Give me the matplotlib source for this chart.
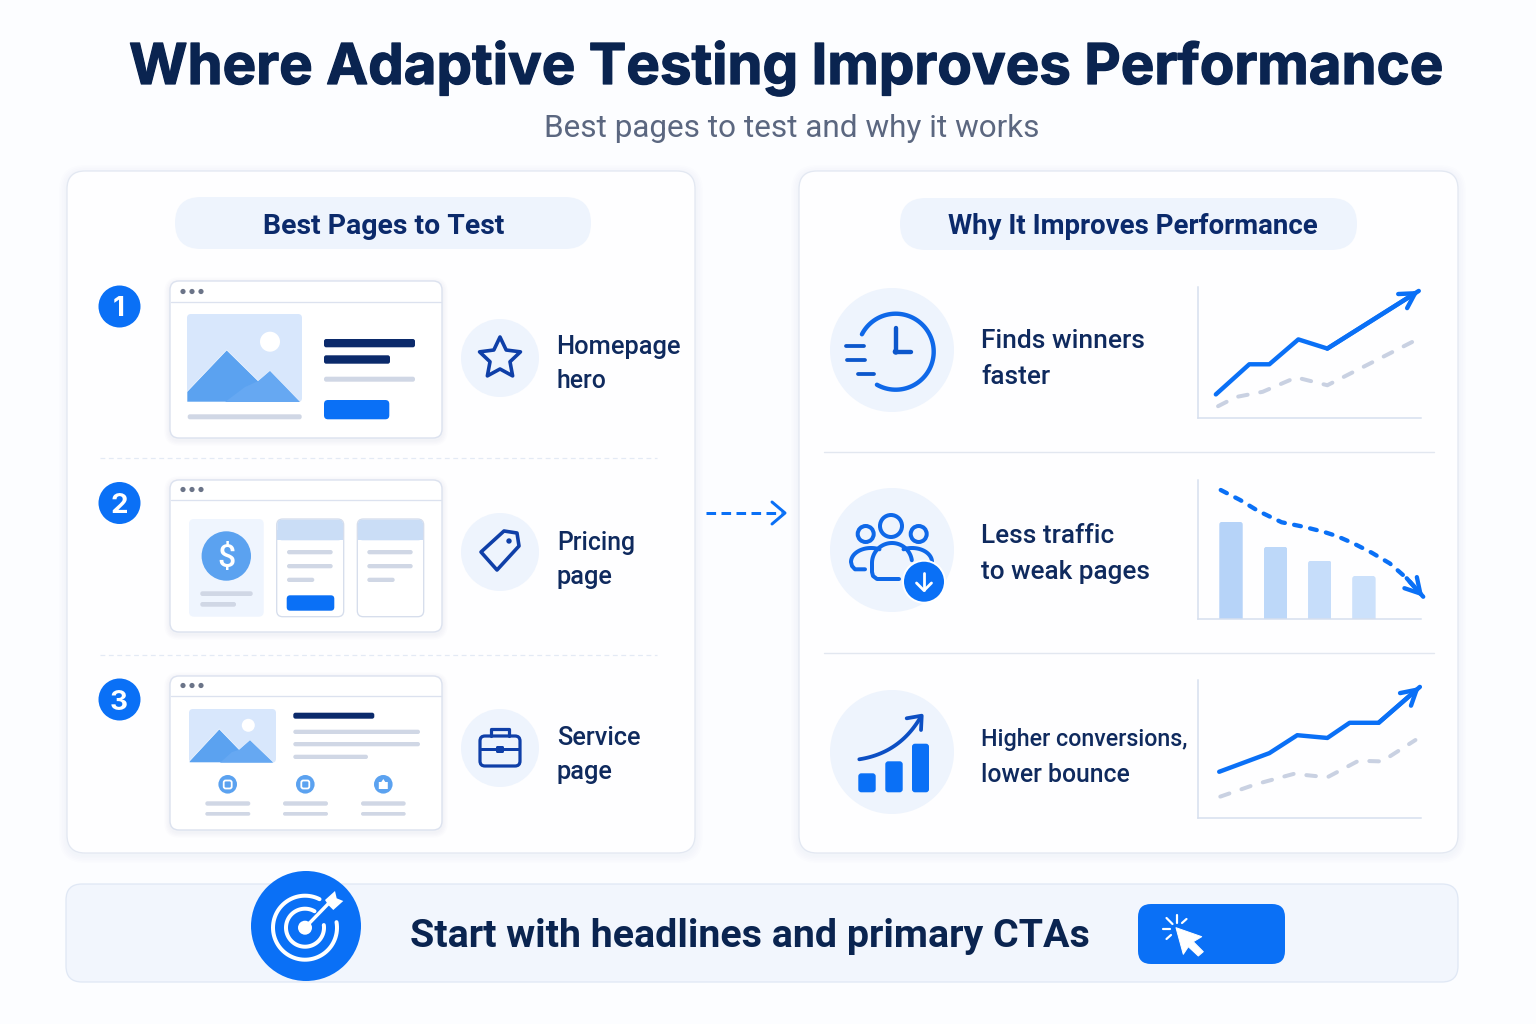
import numpy as np
import matplotlib
matplotlib.use("Agg")
import matplotlib.pyplot as plt
import matplotlib.patheffects as pe
from matplotlib.patches import FancyBboxPatch, Circle, Polygon, Rectangle

# ---------- content ----------
TITLE = "Where Adaptive Testing Improves Performance"
SUBTITLE = "Best pages to test and why it works"
LEFT_HEAD = "Best Pages to Test"
RIGHT_HEAD = "Why It Improves Performance"
PAGE_LABELS = [["Homepage", "hero"], ["Pricing", "page"], ["Service", "page"]]
REASONS = [["Finds winners", "faster"], ["Less traffic", "to weak pages"],
           ["Higher conversions,", "lower bounce"]]
FOOTER = "Start with headlines and primary CTAs"

# chart 1
c1_x = [8, 23, 32, 45, 58, 99]
c1_main = [18, 41, 41, 60, 53, 97]
c1_dx = [9, 17, 29, 44, 58, 96]
c1_base = [9, 16, 20, 31, 25, 58]
# chart 2
c2_bar_x = [14.8, 34.8, 54.6, 74.4]
c2_bars = [70, 52, 42, 31]
c2_lx = [10.2, 18.9, 27, 32.3, 37.5, 47.2, 56.2, 62.2, 69.6, 77.9, 86, 93.6, 101]
c2_ly = [92.8, 85.6, 77.7, 73.6, 69.6, 66.4, 62.8, 59.7, 54.5, 47.7, 40, 29.3, 16]
# chart 3
c3_x = [9.5, 32, 44.5, 58, 68, 81, 99.5]
c3_main = [33.5, 47, 60, 58, 69, 69, 95]
c3_dx = [10, 26, 43, 58, 72, 82.5, 97.5]
c3_base = [15.5, 24.5, 32, 29.5, 41.5, 41, 56.5]

# ---------- colours ----------
BG = "#FCFDFF"
BLUE = "#0A70F6"
NAVY = "#0B2A6B"
DARK = "#0A2450"
ICON_NAVY = "#0F3FA8"
GREY = "#D0D7E5"
BORDER = "#E3E8F2"
PALE = "#EEF4FD"
MID = "#5BA2F0"
SKY = "#D8E7FC"
PX = 0.72  # points per pixel at dpi 100

fig = plt.figure(figsize=(15.36, 10.24), dpi=100, facecolor=BG)
ax = fig.add_axes([0, 0, 1, 1], zorder=1)
ax.set_xlim(0, 1536)
ax.set_ylim(1024, 0)
ax.axis("off")
renderer = fig.canvas.get_renderer()
_z = [10]


def nz():
    _z[0] += 1
    return _z[0]


def rrect(x0, y0, x1, y1, r=4, fc="white", ec="none", lw=0, alpha=None):
    p = FancyBboxPatch((x0, y0), x1 - x0, y1 - y0,
                       boxstyle=f"round,pad=0,rounding_size={r}",
                       fc=fc, ec=ec, lw=lw * PX, alpha=alpha, zorder=nz())
    ax.add_patch(p)
    return p


def shadow(x0, y0, x1, y1, r, layers=5, spread=1.6, dy=2, a=0.008):
    for i in range(layers, 0, -1):
        s = i * spread
        rrect(x0 - s, y0 - s + dy, x1 + s, y1 + s + dy, r + s, fc="#5A78B0", alpha=a)


def circ(x, y, r, fc="none", ec="none", lw=0):
    ax.add_patch(Circle((x, y), r, fc=fc, ec=ec, lw=lw * PX, zorder=nz()))


def line(xs, ys, color, lw, **kw):
    kw.setdefault("solid_capstyle", "round")
    kw.setdefault("solid_joinstyle", "round")
    ax.plot(xs, ys, color=color, lw=lw * PX, zorder=nz(), **kw)


def arc(cx, cy, r, a0, a1, color, lw):
    t = np.radians(np.linspace(a0, a1, 80))
    line(cx + r * np.cos(t), cy - r * np.sin(t), color, lw)


def poly(pts, fc="none", ec="none", lw=0):
    ax.add_patch(Polygon(pts, closed=True, fc=fc, ec=ec, lw=lw * PX,
                         joinstyle="round", zorder=nz()))


def fit(x0, base, s, width, color, family, weight="normal", guess=24):
    t = ax.text(x0, base, s, color=color, family=family, weight=weight,
                fontsize=guess, va="baseline", ha="left", zorder=nz(), parse_math=False)
    w = t.get_window_extent(renderer).width
    t.set_fontsize(guess * width / w)
    return t


# ---------- panels ----------
shadow(67, 171, 695, 853, 18)
rrect(67, 171, 695, 853, 18, fc="#FEFEFF", ec=BORDER, lw=1.3)
shadow(799, 171, 1458, 853, 18)
rrect(799, 171, 1458, 853, 18, fc="#FEFEFF", ec=BORDER, lw=1.3)
rrect(66, 884, 1458, 982, 16, fc="#F2F6FD", ec="#E0E8F5", lw=1.3)

# ---------- titles ----------
title = fit(129, 84, TITLE, 1314, DARK, "Inter", "bold", 42)
title.set_path_effects([pe.withStroke(linewidth=0.9, foreground=DARK)])
fit(544, 137, SUBTITLE, 496, "#5B6780", "Roboto", "normal", 22)
rrect(175, 197, 591, 249, 26, fc=PALE)
rrect(900, 198, 1357, 250, 26, fc=PALE)
fit(263, 234, LEFT_HEAD, 242, NAVY, "Roboto", "bold", 21)
fit(948, 234, RIGHT_HEAD, 370, NAVY, "Roboto", "bold", 21)

# ---------- number badges ----------
for n, cy in zip("123", [306.5, 503, 699.5]):
    circ(119.5, cy, 21, fc=BLUE)
    ax.text(119, cy, n, color="white", family="Inter", weight="bold", fontsize=20,
            ha="center", va="center_baseline", zorder=nz())

# dividers
for y in [458, 655]:
    line([100, 657], [y, y], "#E3EAF5", 1.2, linestyle=(0, (4, 3)), dash_capstyle="butt")
for y in [452, 653]:
    line([824, 1434], [y, y], "#E2E7F0", 1.4)


# ---------- browser windows ----------
def browser(y0, y1, yh):
    shadow(170, y0, 442, y1, 9, layers=4, spread=1.4, dy=2, a=0.016)
    rrect(170, y0, 442, y1, 9, fc="white", ec="#DCE2EF", lw=1.4)
    line([171, 441], [yh, yh], "#DCE2EF", 1.3)
    for x in [183, 192, 201]:
        circ(x, yh - 10.5, 2.6, fc="#6B7488")


def bar(x0, x1, y0, y1, color=GREY):
    rrect(x0, y0, x1, y1, min(2.2, (y1 - y0) / 2), fc=color)


def picture(x0, y0, x1, y1, sun, peaks, overlay):
    rrect(x0, y0, x1, y1, 4, fc=SKY)
    circ(*sun, fc="white")
    poly(peaks, fc=MID, ec="white", lw=0.6)
    poly(overlay, fc="#66A8F2")


browser(281, 438, 302)
picture(187, 314, 302, 402, (270, 341.7, 10),
        [(187, 391.7), (226.7, 350), (258.3, 381), (270, 371), (300, 402), (187, 402)],
        [(225, 402), (245, 387), (258.3, 381), (270, 371), (300, 402)])
bar(324, 415, 339, 347.3, NAVY)
bar(324, 390, 355.3, 363.7, NAVY)
bar(324, 415, 376.7, 381.7)
rrect(324, 400, 389.3, 419.3, 4, fc=BLUE)
bar(187.7, 301.7, 414.3, 419.3)

browser(480, 632, 500)
rrect(189, 519, 263.7, 616.7, 5, fc="#EFF5FE")
circ(226.3, 556, 24.7, fc=MID)
ax.text(226.3, 556, "$", color="white", family="Roboto", weight="medium", fontsize=23, ha="center",
        va="center_baseline", zorder=nz(), parse_math=False)
bar(200.3, 252.7, 591.3, 596)
bar(200.3, 236, 602, 606.7)
for x0, x1 in [(276.7, 343.7), (357.3, 423.7)]:
    rrect(x0, 519, x1, 616.7, 6, fc="white", ec="#D5DDEC", lw=1.3)
    rrect(x0 + 0.6, 519.6, x1 - 0.6, 540.3, 5, fc="#CADDF6")
    ax.add_patch(Rectangle((x0 + 0.6, 530), x1 - x0 - 1.2, 10.3, fc="#CADDF6", zorder=nz()))
for x0, x1, x2 in [(287, 332.7, 314.3), (367.3, 412.7, 394.7)]:
    bar(x0, x1, 550, 554.3)
    bar(x0, x1, 564, 568.3)
    bar(x0, x2, 577.7, 582)
rrect(286.7, 595.3, 334.3, 610.7, 3.5, fc=BLUE)

browser(676, 830, 696)
picture(189, 709, 276, 762.7, (248.3, 725.3, 6.5),
        [(189.3, 761.3), (219.3, 729), (239.3, 749.7), (250, 740.3), (273.3, 762.7), (189.3, 762.7)],
        [(220, 762.7), (232, 752), (239.3, 749.7), (250, 740.3), (273.3, 762.7)])
bar(293.3, 374.3, 712.7, 718.7, NAVY)
bar(293.3, 420, 729.7, 734)
bar(293.3, 420, 742, 746.3)
bar(293.3, 368, 754.7, 759)
for i, (cx, x0, x1) in enumerate([(227.7, 205.3, 250.3), (305.3, 283, 328), (383.3, 361, 405.7)]):
    circ(cx, 784.3, 9.3, fc=MID)
    if i == 2:
        poly([(cx - 4.5, 789), (cx - 4.5, 782), (cx - 2, 782), (cx, 779), (cx + 2, 782),
              (cx + 4.5, 782), (cx + 4.5, 789)], fc="white")
    else:
        rrect(cx - 4, 780.5, cx + 4, 788.5, 2, fc="none", ec="white", lw=1.8)
    bar(x0, x1, 801.3, 805.7)
    bar(x0, x1, 812, 815.7)

# ---------- left icons ----------
for cy in [358, 552, 748]:
    circ(500, cy, 39, fc=PALE)
ang = np.radians(np.arange(90, 450, 36))
rad = np.where(np.arange(10) % 2 == 0, 21.5, 10.5)
poly(list(zip(500 + rad * np.cos(ang), 358.5 - rad * np.sin(ang))), ec=ICON_NAVY, lw=3.6)
poly([(481, 552), (504, 531), (517, 533), (519, 546), (497, 570)], ec=ICON_NAVY, lw=3.6)
circ(509, 541, 2.7, fc=ICON_NAVY)
rrect(480, 736, 520, 766, 5, ec=ICON_NAVY, lw=3.2, fc="none")
line([491, 491, 509, 509], [736, 729, 729, 736], ICON_NAVY, 3.2)
line([481, 519], [749, 749], ICON_NAVY, 3)
rrect(496, 746, 504, 753, 1.5, fc=ICON_NAVY)

for (l1, l2), (x, y1, y2), (w1, w2) in zip(
        PAGE_LABELS,
        [(556, 354, 388), (557, 550, 584), (557, 745, 779)],
        [(125, 50), (78, 56), (84, 56)]):
    fit(x, y1, l1, w1, "#0F2A5E", "Roboto", "medium", 20)
    fit(x, y2, l2, w2, "#0F2A5E", "Roboto", "medium", 20)

# ---------- centre arrow ----------
line([706, 782], [513, 513], BLUE, 3, linestyle=(0, (3.2, 1.8)), dash_capstyle="butt")
line([772, 785, 772], [502, 513, 524], BLUE, 3)

# ---------- right icons ----------
for cy in [350, 550, 752]:
    circ(892, cy, 62, fc=PALE)
CB = "#0F68E8"
arc(895.7, 351.7, 38, 152.7, -119.6, CB, 4.4)
line([895.7, 895.7, 911], [328.3, 351.7, 351.7], "#0C57CC", 4.4)
circ(895.7, 351.7, 3, fc="#0C57CC")
line([846, 864], [345.7, 345.7], "#0C57CC", 3.8)
line([847, 865], [360.3, 360.3], "#0C57CC", 3.8)
line([858, 874], [373.7, 373.7], "#0C57CC", 3.8)

circ(891, 526, 11, ec=CB, lw=4)
circ(865.7, 534, 8, ec=CB, lw=4)
circ(918.7, 534, 8, ec=CB, lw=4)
t = np.radians(np.linspace(8, 180, 50))
bx = list(892 + 20 * np.cos(t)) + [872, 873, 877, 899]
by = list(563 - 20 * np.sin(t)) + [572, 576, 579, 579]
line(bx, by, CB, 4)
t = np.radians(np.linspace(65, 180, 30))
line([865, 855, 852] + list(871 + 20 * np.cos(t))[::-1],
     [569.3, 569.3, 566] + list(562 - 14 * np.sin(t))[::-1], CB, 4)
t = np.radians(np.linspace(0, 115, 30))
line(list(912 + 20 * np.cos(t)), list(562 - 14 * np.sin(t)), CB, 4)
circ(924, 581.7, 22, fc="white")
circ(924, 581.7, 20, fc=BLUE)
line([924, 924], [573, 590], "white", 2.8)
line([916.5, 924, 931.5], [583, 590.5, 583], "white", 2.8)

for x0, x1, y0 in [(858.3, 875.7, 773.3), (885.3, 902.7, 761.3), (912, 929, 743.7)]:
    rrect(x0, y0, x1, 792.3, 3, fc=BLUE)
t = np.linspace(0, 1, 30)
line((1 - t) ** 2 * 859.3 + 2 * t * (1 - t) * 900 + t ** 2 * 921,
     (1 - t) ** 2 * 759.3 + 2 * t * (1 - t) * 753 + t ** 2 * 716.5, "#0C4FC4", 3.8)
line([906.7, 921.7, 921], [718.3, 715.7, 730], "#0C4FC4", 3.8)

for (l1, l2), (y1, y2), (w1, w2) in zip(REASONS, [(348, 384), (543, 579), (746, 782)],
                                         [(164, 69), (133, 169), (207, 149)]):
    fit(981, y1, l1, w1, "#0F2A5E", "Roboto", "medium", 20)
    fit(981, y2, l2, w2, "#0F2A5E", "Roboto", "medium", 20)

# ---------- footer ----------
circ(306, 926, 55, fc=BLUE)
arc(305, 927.7, 32, 63, 370, "white", 4)
arc(305, 927.7, 19, 60, 368, "white", 4)
circ(305, 927.7, 7, fc="white")
line([305, 328], [927.7, 904], "white", 3.4)
poly([(325, 900), (335, 891), (336.7, 898.3), (343.3, 901), (333.3, 910), (328.3, 905)], fc="white")
fit(410, 947, FOOTER, 680, DARK, "Roboto", "bold", 30)
rrect(1138, 904, 1285, 964, 13, fc=BLUE)
poly([(1176, 927.7), (1201.7, 936.7), (1193.3, 941.7), (1203.3, 951.7), (1198.3, 956),
      (1188.3, 946.7), (1183.3, 954.3)], fc="white", ec="white", lw=1)
for seg in [((1177, 1177), (915, 923)), ((1166.5, 1172.5), (918, 924)),
            ((1162.5, 1170), (929, 929)), ((1166.5, 1171), (939, 935)),
            ((1186.5, 1182), (919, 923))]:
    line(seg[0], seg[1], "white", 2.2)


# ---------- mini charts ----------
def chart(x0, y0, x1, y1):
    a = fig.add_axes([x0 / 1536, 1 - y1 / 1024, (x1 - x0) / 1536, (y1 - y0) / 1024], zorder=5)
    a.set_xlim(0, 100)
    a.set_ylim(0, 100)
    a.patch.set_alpha(0)
    for s in ["top", "right"]:
        a.spines[s].set_visible(False)
    for s in ["left", "bottom"]:
        a.spines[s].set_color("#D6DFEF")
        a.spines[s].set_linewidth(1.5 * PX)
    a.set_xticks([])
    a.set_yticks([])
    return a


def head(a, xs, ys, lw):
    a.annotate("", xy=(xs[-1], ys[-1]), xytext=(xs[-2], ys[-2]), annotation_clip=False,
               arrowprops=dict(arrowstyle="->,head_length=1.05,head_width=0.6", color=BLUE,
                               lw=lw * PX, shrinkA=0, shrinkB=0, capstyle="round", joinstyle="round"))


def trend(a, x, y, dx, dy):
    a.plot(dx, dy, color="#C9D1E2", lw=4 * PX, linestyle=(0, (2.4, 3.2)),
           dash_capstyle="round", clip_on=False)
    a.plot(x, y, color=BLUE, lw=4.4 * PX, solid_capstyle="round", solid_joinstyle="round",
           clip_on=False)
    head(a, x, y, 4.4)


a1 = chart(1198, 287, 1421, 418)
trend(a1, c1_x, c1_main, c1_dx, c1_base)

a2 = chart(1198, 480, 1421, 619)
bars = a2.bar(c2_bar_x, c2_bars, width=10.5, color=["#B6D3F8", "#BDD8F9", "#C6DDFA", "#CCE1FB"])
for r in bars:
    r.set_clip_path(FancyBboxPatch((r.get_x(), -6), r.get_width(), r.get_height() + 6,
                                   boxstyle="round,pad=0,rounding_size=1.3",
                                   mutation_aspect=223 / 139, transform=a2.transData))
a2.plot(c2_lx, c2_ly, color=BLUE, lw=4.3 * PX, linestyle=(0, (1.6, 2.2)),
        dash_capstyle="round", clip_on=False)
head(a2, c2_lx, c2_ly, 4.3)

a3 = chart(1198, 680, 1421, 818)
trend(a3, c3_x, c3_main, c3_dx, c3_base)

fig.savefig("out.png", dpi=100, facecolor=BG)
